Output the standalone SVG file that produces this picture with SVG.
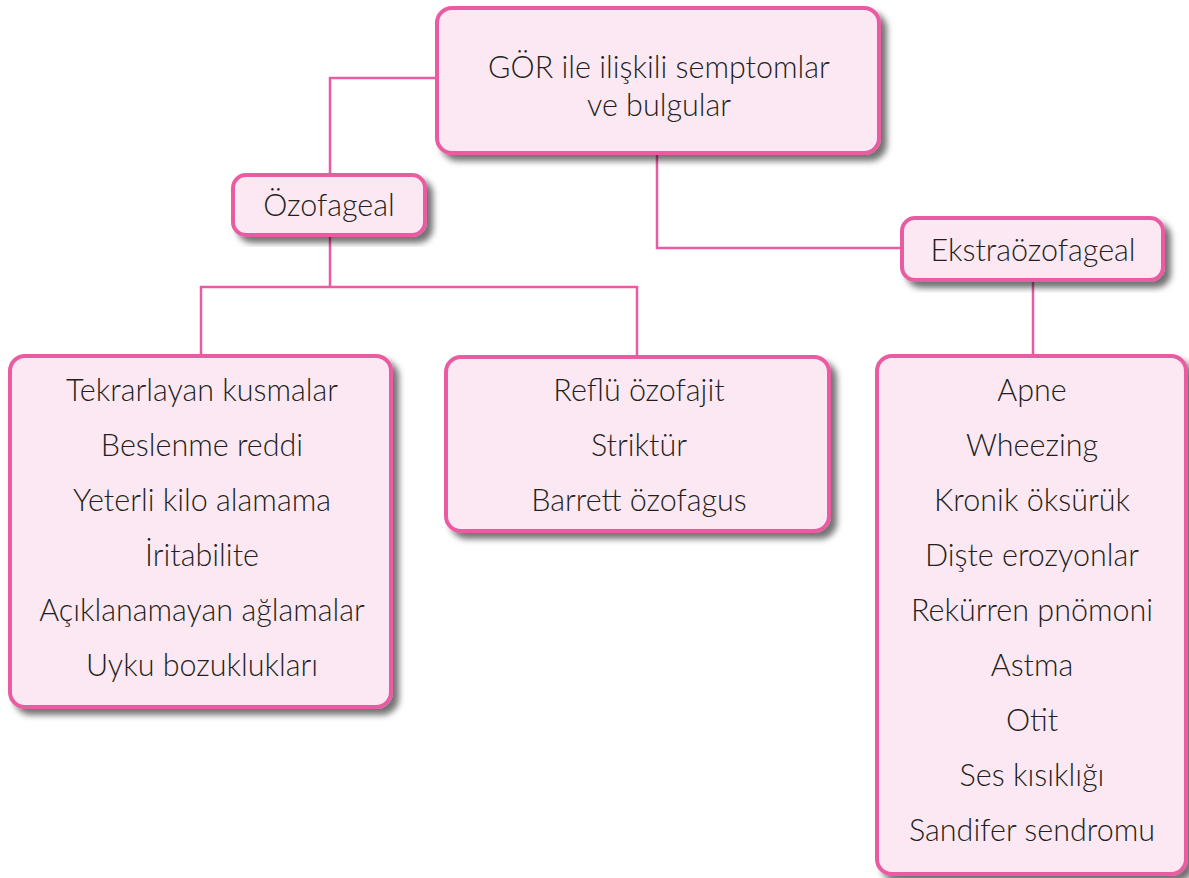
<svg xmlns="http://www.w3.org/2000/svg" width="1189" height="878" viewBox="0 0 1189 878">
<style>
.box{fill:#fce8f2;stroke:#ea5ca2;stroke-width:4;filter:url(#sh)}
.t{font-family:Lato,"Noto Sans",sans-serif;font-size:30.5px;font-weight:300;fill:#231f20;text-anchor:middle}
.c{fill:none;stroke:#ea5ca2;stroke-width:2.5}
</style>
<defs>
<filter id="sh" x="-10%" y="-10%" width="130%" height="130%">
<feDropShadow dx="6" dy="6" stdDeviation="3" flood-color="#000" flood-opacity="0.55"/>
</filter>
</defs>
<rect width="1189" height="878" fill="#fff"/>
<g id="connectors">
<path class="c" d="M437 78H330V175"/>
<path class="c" d="M330 235V287M201 356V287H637V357"/>
<path class="c" d="M657 153V248H902"/>
<path class="c" d="M1033 280V356"/>
</g>
<g id="root">
<rect class="box" x="437" y="8" width="442" height="145" rx="15"/>
<text class="t" x="659" y="78">GÖR ile ilişkili semptomlar</text>
<text class="t" x="659" y="116">ve bulgular</text>
</g>
<g id="ozofageal">
<rect class="box" x="233" y="175" width="192" height="60" rx="13"/>
<text class="t" x="329" y="216">Özofageal</text>
</g>
<g id="ekstraozofageal">
<rect class="box" x="902" y="218" width="261" height="62" rx="13"/>
<text class="t" x="1033" y="261">Ekstraözofageal</text>
</g>
<g id="list-left">
<rect class="box" x="10" y="356" width="381" height="351" rx="15"/>
<text class="t" x="202" y="401">Tekrarlayan kusmalar</text>
<text class="t" x="202" y="456">Beslenme reddi</text>
<text class="t" x="202" y="511">Yeterli kilo alamama</text>
<text class="t" x="202" y="566">İritabilite</text>
<text class="t" x="202" y="621">Açıklanamayan ağlamalar</text>
<text class="t" x="202" y="676">Uyku bozuklukları</text>
</g>
<g id="list-middle">
<rect class="box" x="446" y="357" width="383" height="174" rx="15"/>
<text class="t" x="639" y="401">Reflü özofajit</text>
<text class="t" x="639" y="456">Striktür</text>
<text class="t" x="639" y="511">Barrett özofagus</text>
</g>
<g id="list-right">
<rect class="box" x="877" y="356" width="309" height="518" rx="15"/>
<text class="t" x="1032" y="401">Apne</text>
<text class="t" x="1032" y="456">Wheezing</text>
<text class="t" x="1032" y="511">Kronik öksürük</text>
<text class="t" x="1032" y="566">Dişte erozyonlar</text>
<text class="t" x="1032" y="621">Rekürren pnömoni</text>
<text class="t" x="1032" y="676">Astma</text>
<text class="t" x="1032" y="731">Otit</text>
<text class="t" x="1032" y="786">Ses kısıklığı</text>
<text class="t" x="1032" y="841">Sandifer sendromu</text>
</g>
</svg>
